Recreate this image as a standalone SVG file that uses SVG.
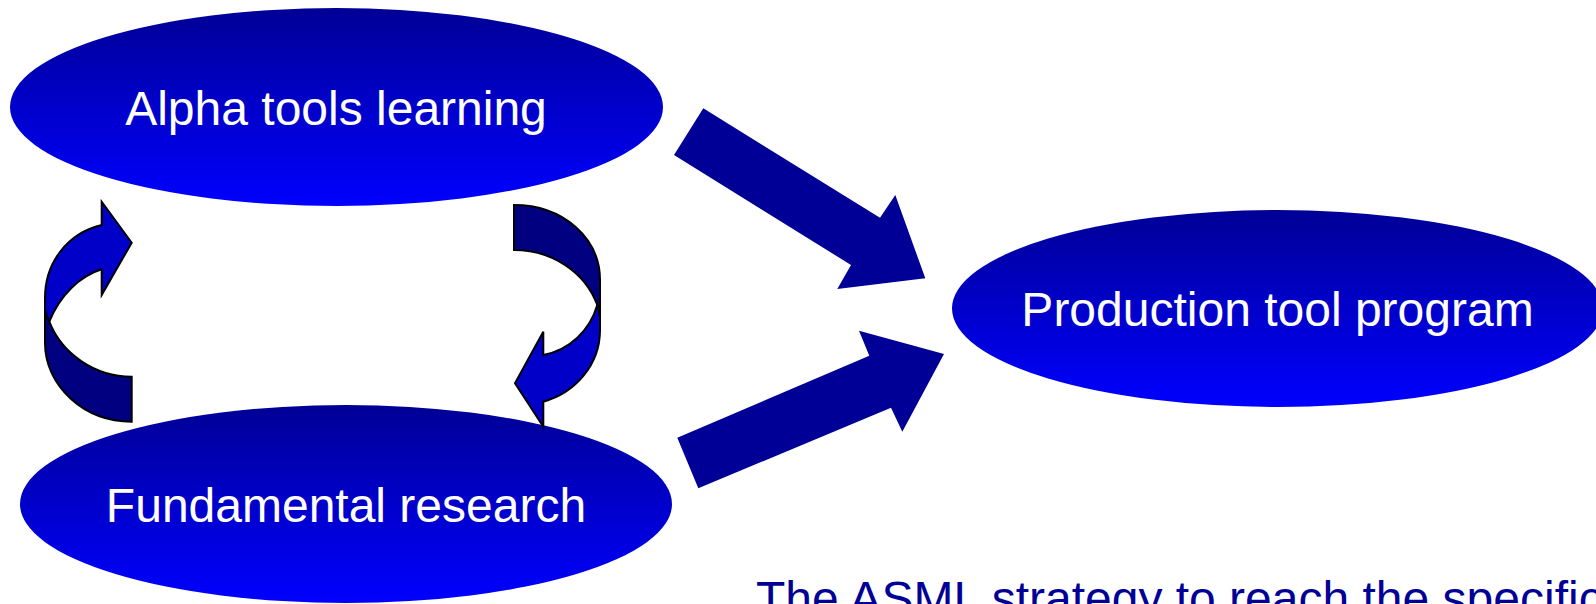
<svg xmlns="http://www.w3.org/2000/svg" width="1596" height="604" viewBox="0 0 1596 604">
  <defs>
    <linearGradient id="ovalFill" x1="0" y1="0" x2="0" y2="1">
      <stop offset="0" stop-color="#000096"/>
      <stop offset="1" stop-color="#0000FF"/>
    </linearGradient>
    <style>
      .oval { fill: url(#ovalFill); }
      .label { font-family: "Liberation Sans", Arial, sans-serif; font-size: 48px; fill: #FFFFFF; text-anchor: middle; }
      .flow { fill: #000096; }
      .loop-front { fill: #0000C8; stroke: #000000; stroke-width: 2; stroke-linejoin: miter; }
      .loop-back { fill: #000080; stroke: #000000; stroke-width: 2; stroke-linejoin: miter; }
      .caption { font-family: "Liberation Sans", Arial, sans-serif; font-size: 48px; fill: #000096; }
    </style>
  </defs>

  <rect width="1596" height="604" fill="#FFFFFF"/>

  <!-- Nodes -->
  <g id="alpha-tools">
    <ellipse class="oval" cx="336.5" cy="107" rx="326.5" ry="99"/>
    <text class="label" x="336" y="125">Alpha tools learning</text>
  </g>

  <g id="fundamental-research">
    <ellipse class="oval" cx="346" cy="504" rx="326" ry="99"/>
    <text class="label" x="346" y="522">Fundamental research</text>
  </g>

  <g id="production-tool">
    <ellipse class="oval" cx="1277.5" cy="308.5" rx="325.5" ry="98.5"/>
    <text class="label" x="1277.5" y="326">Production tool program</text>
  </g>

  <!-- Connectors -->
  <g id="connectors">
    <!-- block arrow: alpha tools -> production -->
    <polygon class="flow" points="703.3,108.3 880,217.7 895.3,195 925.3,278.3 837.3,289 851,265 674,155"/>
    <!-- block arrow: fundamental research -> production -->
    <polygon class="flow" points="698.3,488.3 891,407.7 902.3,431.7 944,354 859,330.7 869.3,355.7 677.3,437.7"/>

    <!-- left loop arrow (research -> alpha) -->
    <path class="loop-back" d="M49.3,321.7 C62,354 95,376.7 131.7,376.7 L131.7,421.7 C84,421.7 45,386 45,343 L45,305 C45.5,312 47,317 49.3,321.7 Z"/>
    <path class="loop-front" d="M101.7,225 C68,233 45,262 45,298 L45,310 C46,314 47.5,318 49.3,321.7 C60,295 80,276 101.7,269.3 L101.7,295 L131.7,242.7 L101.7,201.7 Z"/>

    <!-- right loop arrow (alpha -> research) -->
    <path class="loop-back" d="M514,205 C563,205 600,238 600,280 L600,325 C600,316 599,310 597.3,305 C585,272 552,250 514,250 Z"/>
    <path class="loop-front" d="M597.3,305 C590,330 570,350 543.3,355 L543.3,331.7 L515,383.3 L543.3,426.7 L543.3,401.7 C575,393 600,365 600,330 L600,318 C599,312 598.5,308 597.3,305 Z"/>
  </g>

  <!-- caption runs past the right and bottom edges -->
  <text class="caption" x="756" y="615">The ASML strategy to reach the specific</text>
</svg>
